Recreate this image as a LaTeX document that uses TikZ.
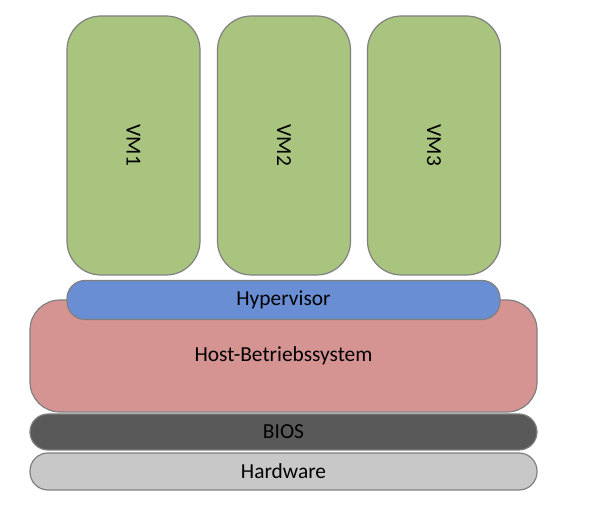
\documentclass[tikz,border=0pt]{standalone}
\usepackage{fontspec}
\setmainfont{Carlito}
\usepackage{tikz}

\definecolor{vmgreen}{HTML}{A9C47F}
\definecolor{hypblue}{HTML}{6A8ED4}
\definecolor{hostred}{HTML}{D59391}
\definecolor{biosgray}{HTML}{595959}
\definecolor{hwgray}{HTML}{C8C8C8}
\definecolor{rimgray}{HTML}{808080}

\begin{document}
\begin{tikzpicture}[x=0.5pt, y=-0.5pt]
                \useasboundingbox (0,0) rectangle (596,518);
                \begin{scope}[every node/.style={draw=rimgray, line width=0.6pt, inner sep=0, font=\fontsize{10.7}{12}\selectfont},
                              vmbox/.style={fill=vmgreen, rounded corners=17pt, minimum width=66.5pt, minimum height=129.5pt},
                              layer/.style={rounded corners=9pt, minimum width=253.5pt}]
                        \node[vmbox] (VM1) at (133.5,145.5) {\rotatebox{-90}{VM1}};
                        \node[vmbox] (VM2) at (284,145.5) {\rotatebox{-90}{VM2}};
                        \node[vmbox] (VM3) at (434,145.5) {\rotatebox{-90}{VM3}};

                        \node[layer, fill=hostred, rounded corners=15pt, minimum height=56pt] (Host) at (283.5,356) {Host-Betriebssystem};
                        \node[layer, fill=hypblue, minimum width=216.5pt, minimum height=19.5pt] (Hyp) at (283.5,300) {Hypervisor};
                        \node[layer, fill=biosgray, minimum height=18pt] (BIOS) at (283.5,432) {BIOS};
                        \node[layer, fill=hwgray, minimum height=18.5pt] (HW) at (283.5,471.5) {Hardware};
               \end{scope}
        \end{tikzpicture}
\end{document}
